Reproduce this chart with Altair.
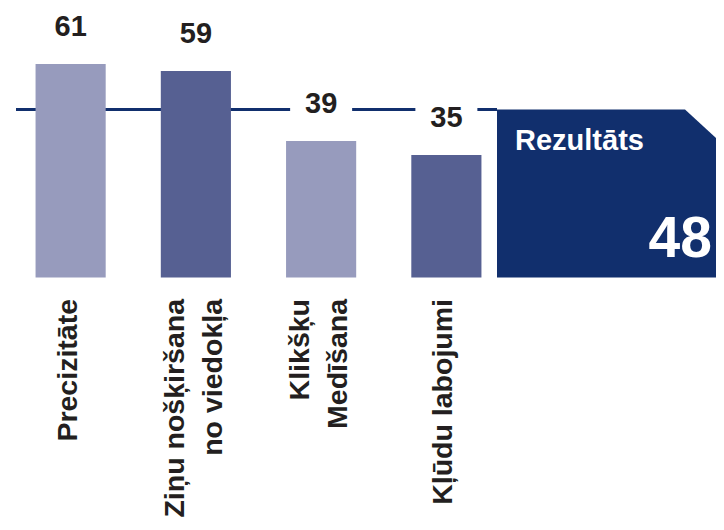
import altair as alt
import pandas as pd

# ---- data ----
categories = ["Precizitāte", "Ziņu nošķiršana\nno viedokļa", "Klikšķu\nMedīšana", "Kļūdu labojumi"]
values = [61, 59, 39, 35]
shades = ["light", "dark", "light", "dark"]
result_label = ["Rezultāts"]
result_value = [48]

# ---- styles / layout ----
LIGHT = "#979bbd"
DARK = "#566092"
NAVY = "#112f6d"
TEXT = "#231f20"
FONT = "Liberation Sans"
PLOT_W = 708
PLOT_H = 269.5
PAD_BOTTOM = 240
LINE_X0 = 8
BOX_X0 = 489
CUT_X = 677
BOX_X1 = 708
CUT_SLOPE = 36 / 39          # px drop per px of the corner cut
PX_PER_UNIT = 3.5
CUT_DROP = (BOX_X1 - CUT_X) * CUT_SLOPE / PX_PER_UNIT
LINE_H = 38

df = pd.DataFrame({"cat": categories, "value": values, "shade": shades})
res = pd.DataFrame({"label": result_label, "value": result_value})
r = result_value[0]
box = pd.DataFrame({"px": [BOX_X0, CUT_X, BOX_X1],
                    "top": [r, r, r - CUT_DROP],
                    "base": [0, 0, 0]})

yscale = alt.Scale(domain=[0, 77], nice=False, zero=True)
xscale = alt.Scale(domain=categories, range=[0, 501], paddingInner=0.44, paddingOuter=0.22)

xenc = alt.X("cat:N", sort=None, scale=xscale, title=None,
             axis=alt.Axis(labelExpr="split(datum.label, '\\n')", labelAngle=270,
                           labelAlign="right", labelBaseline="middle", labelPadding=21,
                           labelOffset={"condition": {"test": "indexof(datum.value, '\\n') >= 0",
                                                      "value": -LINE_H / 2 - 2},
                                        "value": -3},
                           labelFontSize=28.5, labelFont=FONT, labelFontWeight="bold",
                           labelColor=TEXT, labelLimit=500, labelLineHeight=LINE_H,
                           labelOverlap=False, domain=False, ticks=False, grid=False))
xplain = alt.X("cat:N", sort=None, scale=xscale, axis=None)
yenc = alt.Y("value:Q", scale=yscale, axis=None)

rule = alt.Chart(res).mark_rule(color=NAVY, strokeWidth=3).encode(
    y=yenc, x=alt.value(LINE_X0), x2=alt.value(BOX_X0))

bars = alt.Chart(df).mark_bar().encode(
    x=xenc, y=yenc,
    color=alt.Color("shade:N", scale=alt.Scale(domain=["light", "dark"], range=[LIGHT, DARK]),
                    legend=None))

halo = alt.Chart(df).transform_calculate(
    lo="datum.value + 6", hi="datum.value + 15"
).mark_bar(width=62, color="white").encode(
    x=xplain, y=alt.Y("lo:Q", scale=yscale, axis=None), y2="hi:Q")

labels = alt.Chart(df).mark_text(dy=-28, baseline="alphabetic", fontSize=29, font=FONT,
                                 fontWeight="bold", color=TEXT).encode(
    x=xplain, y=yenc, text="value:Q")

box_area = alt.Chart(box).mark_area(color=NAVY, interpolate="linear").encode(
    x=alt.X("px:Q", scale=None, axis=None),
    y=alt.Y("top:Q", scale=yscale, axis=None), y2="base:Q")

box_title = alt.Chart(res).mark_text(align="left", baseline="alphabetic", fontSize=29,
                                     font=FONT, fontWeight="bold", color="white").encode(
    x=alt.value(507), y=alt.value(142), text="label:N")

box_value = alt.Chart(res).mark_text(align="right", baseline="alphabetic", fontSize=57,
                                     font=FONT, fontWeight="bold", color="white").encode(
    x=alt.value(704), y=alt.value(249), text="value:Q")

chart = alt.layer(rule, bars, halo, labels, box_area, box_title, box_value).resolve_scale(
    x="independent"
).properties(
    width=PLOT_W, height=PLOT_H, autosize="none", background="white",
    padding={"left": 0, "top": 0, "right": 0, "bottom": PAD_BOTTOM}
).configure_view(strokeWidth=0, stroke="transparent").configure_axis(
    domain=False, ticks=False, grid=False
)

chart.save("out.html", embed_options={"renderer": "svg", "actions": False})
